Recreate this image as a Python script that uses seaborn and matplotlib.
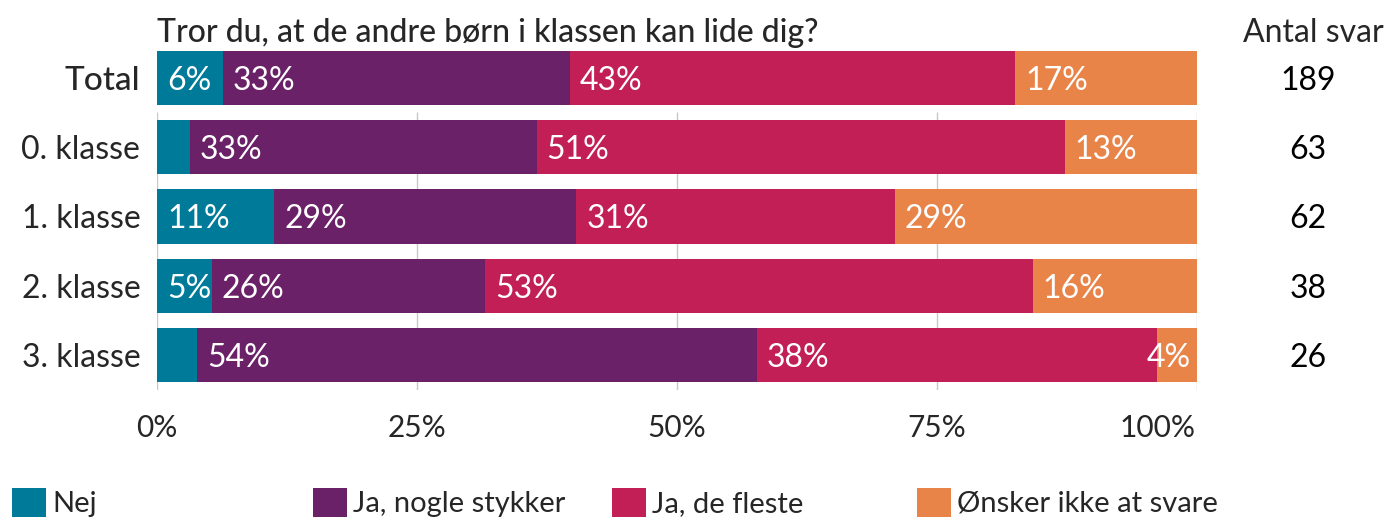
import matplotlib
matplotlib.use("Agg")
import matplotlib.pyplot as plt
import seaborn as sns
import pandas as pd
import numpy as np
from matplotlib.patches import Patch

categories = ["Total", "0. klasse", "1. klasse", "2. klasse", "3. klasse"]
answers = ["Nej", "Ja, nogle stykker", "Ja, de fleste", "Ønsker ikke at svare"]
nej = [6.35, 3.17, 11.29, 5.26, 3.85]
ja_nogle = [33.33, 33.33, 29.03, 26.32, 53.85]
ja_fleste = [42.86, 50.79, 30.65, 52.63, 38.46]
onsker = [17.46, 12.70, 29.03, 15.79, 3.85]
antal_svar = [189, 63, 62, 38, 26]
title = "Tror du, at de andre børn i klassen kan lide dig?"
xticks = [0, 25, 50, 75, 100]
xticklabels = ["0%", "25%", "50%", "75%", "100%"]

colors = ["#007a99", "#6a2168", "#c21f57", "#e98449"]

sns.set_theme(style="white")
plt.rcParams["font.family"] = ["Lato", "DejaVu Sans"]

W, H = 1387, 519
fig = plt.figure(figsize=(W / 100, H / 100), dpi=100)
ax = fig.add_axes([157 / W, 1 - 390 / H, 1040 / W, (390 - 43) / H])

series = [nej, ja_nogle, ja_fleste, onsker]
cum = np.cumsum(np.array(series), axis=0)
df = pd.DataFrame({"cat": categories})
# draw cumulative layers, largest first
for i in range(3, -1, -1):
    df["v"] = cum[i]
    sns.barplot(data=df, x="v", y="cat", orient="h", color=colors[i],
                saturation=1, width=0.78, ax=ax, edgecolor="none", linewidth=0,
                order=categories)

ax.set_xlim(0, 100)
ax.set_ylim(4.5, -0.5)
ax.vlines(xticks, 0.5, 4.5, colors="#c8c8c8", linewidth=1, zorder=0)
for s in ax.spines.values():
    s.set_visible(False)
ax.set_xlabel("")
ax.set_ylabel("")
ax.set_xticks(xticks)
# last label drawn separately, right-aligned at the axis end
ax.set_xticklabels(xticklabels[:-1] + [""], fontsize=21.5)
ax.annotate(xticklabels[-1], xy=(xticks[-1], 0), xycoords=("data", "axes fraction"),
            xytext=(-1, -17), textcoords="offset points", ha="right", va="top",
            fontsize=21.5)
ax.tick_params(axis="x", length=0, pad=17)
ax.tick_params(axis="y", length=0, pad=12)
ax.set_yticks(range(len(categories)))
ax.set_yticklabels(categories, fontsize=23)
lab0 = ax.get_yticklabels()[0]
lab0.set_fontsize(24)
lab0.set_fontweight("medium")

# segment labels
for r in range(len(categories)):
    start = 0
    for i in range(4):
        v = series[i][r]
        txt = f"{round(v):.0f}%"
        if v >= 4.5:
            ax.text(start + 0.95, r, txt, ha="left", va="center_baseline",
                    color="white", fontsize=23)
        elif i == 3:
            ax.text(start + v - 0.6, r, txt, ha="right", va="center_baseline",
                    color="white", fontsize=23)
        start += v

# counts
for r, n in enumerate(antal_svar):
    ax.text(1.0 + (1308 - 1197) / 1040, r, str(n), transform=ax.get_yaxis_transform(),
            ha="center", va="center_baseline", fontsize=23, color="black")

fig.text(157 / W, 1 - 30 / H, title, ha="left", va="center_baseline", fontsize=23,
         fontweight="medium")
fig.text(1313 / W, 1 - 30 / H, "Antal svar", ha="center", va="center_baseline", fontsize=23)

# legend
xs = [12, 313, 612, 917]
for x, lab, c in zip(xs, answers, colors):
    fig.legend(handles=[Patch(facecolor=c, edgecolor="none")], labels=[lab],
               loc="lower left", bbox_to_anchor=(x / W, 0.004), frameon=False,
               borderpad=0, borderaxespad=0, handlelength=1.15, handleheight=1.15,
               handletextpad=0.22, fontsize=21)

fig.savefig("out.png", dpi=100)
